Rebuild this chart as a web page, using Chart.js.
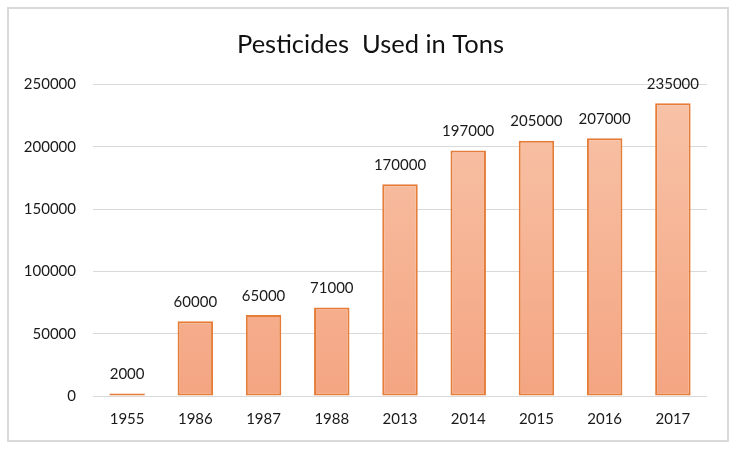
<!DOCTYPE html>
<html>
<head>
<meta charset="utf-8">
<script src="https://cdn.jsdelivr.net/npm/chart.js@4"></script>
<style>
html,body{margin:0;padding:0;background:#fff;}
#wrap{width:741px;height:453px;position:relative;}
</style>
</head>
<body>
<div id="wrap"><canvas id="c" width="741" height="453"></canvas></div>
<script>
const categories = ['1955','1986','1987','1988','2013','2014','2015','2016','2017'];
const pesticideTons = [2000, 60000, 65000, 71000, 170000, 197000, 205000, 207000, 235000];
const yTicks = [0, 50000, 100000, 150000, 200000, 250000];
const chartTitle = 'Pesticides  Used in Tons';

const FONT = 'Lato, "Open Sans", sans-serif';

const frame = {
  id: 'frame',
  beforeDraw(chart) {
    const ctx = chart.ctx;
    ctx.save();
    ctx.fillStyle = '#fff';
    ctx.fillRect(0, 0, chart.width, chart.height);
    ctx.strokeStyle = '#d9d9d9';
    ctx.lineWidth = 2;
    ctx.strokeRect(8, 8, 720, 433);
    ctx.restore();
  }
};

const valueLabels = {
  id: 'valueLabels',
  afterDatasetsDraw(chart) {
    const ctx = chart.ctx;
    const meta = chart.getDatasetMeta(0);
    const data = chart.data.datasets[0].data;
    ctx.save();
    ctx.font = '15px ' + FONT;
    ctx.fillStyle = '#1a1a1a';
    ctx.textAlign = 'center';
    ctx.textBaseline = 'middle';
    meta.data.forEach((bar, i) => {
      ctx.fillText(String(data[i]), bar.x, bar.y - 19);
    });
    ctx.restore();
  }
};

const ctx = document.getElementById('c').getContext('2d');
new Chart(ctx, {
  type: 'bar',
  data: {
    labels: categories,
    datasets: [{
      data: pesticideTons,
      backgroundColor(context) {
        const area = context.chart.chartArea;
        if (!area) return '#F6B495';
        const g = context.chart.ctx.createLinearGradient(0, area.top, 0, area.bottom);
        g.addColorStop(0, '#F8C4A9');
        g.addColorStop(1, '#F4A582');
        return g;
      },
      borderColor: '#E57C38',
      borderWidth: 2,
      borderSkipped: false,
      categoryPercentage: 1,
      barPercentage: 0.52
    }]
  },
  options: {
    responsive: false,
    animation: false,
    devicePixelRatio: 1,
    layout: { padding: 0 },
    plugins: {
      legend: { display: false },
      tooltip: { enabled: false },
      title: {
        display: true,
        text: chartTitle,
        color: '#111',
        font: { family: FONT, size: 25.5, weight: 'normal' },
        padding: { top: 29, bottom: 25 }
      }
    },
    scales: {
      x: {
        grid: { display: false, drawTicks: false },
        border: { display: false },
        ticks: { color: '#1a1a1a', font: { family: FONT, size: 15 }, padding: 14, maxRotation: 0 },
        afterFit(scale) { scale.height = 57; }
      },
      y: {
        min: 0,
        max: 250000,
        afterBuildTicks(scale) { scale.ticks = yTicks.map(v => ({ value: v })); },
        grid: { color: '#d9d9d9', lineWidth: 1, drawTicks: false },
        border: { display: false },
        ticks: {
          color: '#1a1a1a',
          font: { family: FONT, size: 15 },
          padding: 17,
          callback(value) { return String(value); }
        },
        afterFit(scale) { scale.width = 93; }
      },
      yRight: {
        position: 'right',
        min: 0,
        max: 250000,
        grid: { display: false, drawTicks: false },
        border: { display: false },
        ticks: { display: false },
        afterFit(scale) { scale.width = 34; }
      }
    }
  },
  plugins: [frame, valueLabels]
});
</script>
</body>
</html>
